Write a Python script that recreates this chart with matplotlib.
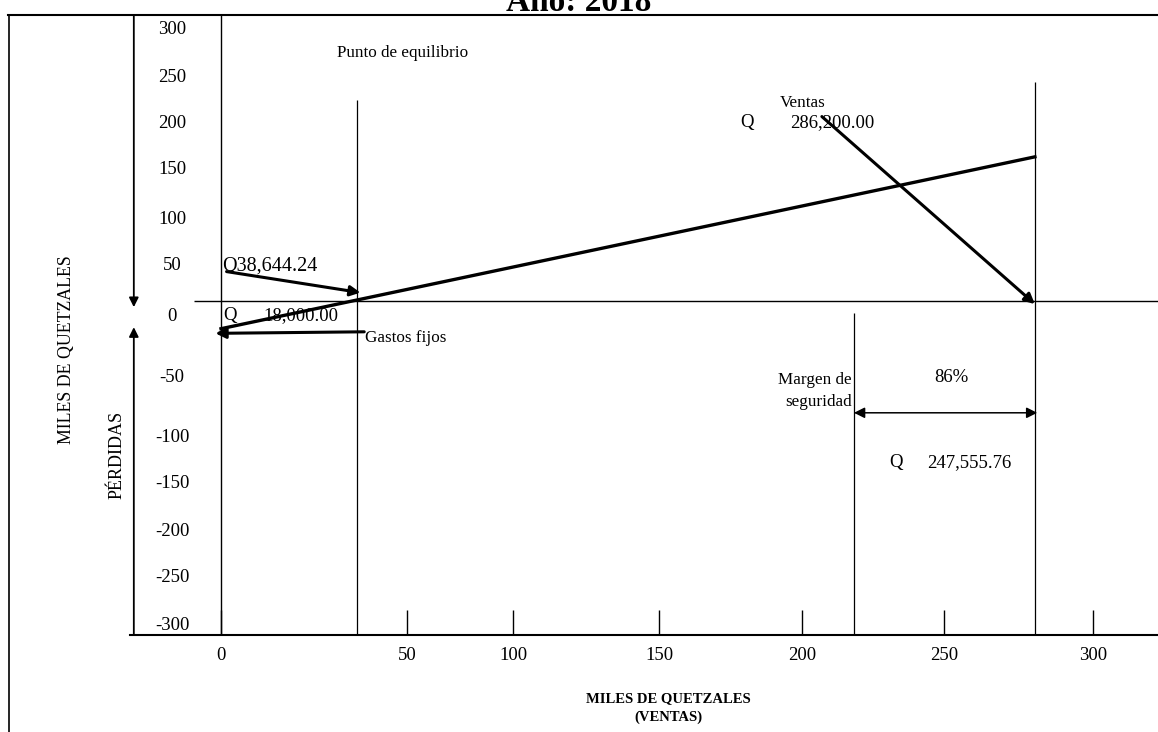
import numpy as np
import matplotlib.pyplot as plt
from matplotlib.lines import Line2D

plt.rcParams['font.family'] = ['Liberation Serif', 'DejaVu Serif']

# valores del grafico (miles de quetzales)
costos_fijos = 18.0          # Q 18,000.00
punto_eq_txt = "Q38,644.24"
ventas_txt = "286,200.00"
margen_txt = "247,555.76"
margen_pct = "86%"

# posiciones (escala del escaneo)
x_pe_dib = 36.5
x_ventas_dib = 280.5
x_margen_dib = 218.3
utilidad_dib = 164.0

x_ticks = [0, 50, 100, 150, 200, 250, 300]
y_ticks = [300, 250, 200, 150, 100, 50, 0, -50, -100, -150, -200, -250, -300]

# la escala del dibujo no es lineal: valor -> pixel, leido de las marcas
x_cal_v = np.array([-100, 0, 50, 100, 150, 200, 250, 300, 400])
x_cal_p = np.array([-150, 221, 407, 513, 659, 802, 944, 1093, 1391])
y_cal_v = np.array([-400, -300, -250, -200, -150, -100, -50, 0, 50, 100, 150, 200, 250, 300, 400])
y_cal_p = np.array([719, 625, 578, 531, 484, 438, 378, 301, 266, 219, 170, 123, 77, 29, -65])


def fx(v):
    return np.interp(v, x_cal_v, x_cal_p)


def ifx(p):
    return np.interp(p, x_cal_p, x_cal_v)


def fy(v):
    return np.interp(v, y_cal_v, -y_cal_p)


def ify(p):
    return np.interp(p, -y_cal_p, y_cal_v)


W, H = 1158, 732
fig = plt.figure(figsize=(W / 100, H / 100), dpi=100)
ax = fig.add_axes([130 / W, (H - 635) / H, (W - 130) / W, (635 - 15) / H])
ax.set_xscale('function', functions=(fx, ifx))
ax.set_yscale('function', functions=(fy, ify))
ax.set_xlim(ifx(130), ifx(W))
ax.set_ylim(ify(-635), ify(-15))
xmin, xmax = ax.get_xlim()
ymin, ymax = ax.get_ylim()

for s in ['left', 'top', 'right']:
    ax.spines[s].set_visible(False)
ax.spines['bottom'].set_linewidth(1.5)

fs_num = 13.5
fs = 12.3
ax.set_xticks(x_ticks)
ax.set_xticklabels([str(t) for t in x_ticks], fontsize=fs_num)
ax.tick_params(axis='x', direction='in', length=18, width=1, pad=9)
ax.minorticks_off()
ax.set_yticks([])
for t in y_ticks:
    ax.text(0.041, t if t != 0 else -10, str(t), transform=ax.get_yaxis_transform(),
            ha='center', va='center', fontsize=fs_num)

# lineas verticales
ax.axvline(0, color='k', lw=1)
ax.vlines(x_pe_dib, ymin, 225, color='k', lw=0.9)
ax.vlines(x_ventas_dib, ymin, 245, color='k', lw=0.9)
ax.vlines(x_margen_dib, ymin, -8, color='k', lw=0.9)
ax.hlines(0, -7.3, xmax, color='k', lw=1)

# linea de utilidad
ax.plot([0, x_ventas_dib], [-costos_fijos, utilidad_dib], color='k', lw=2.4)

# flechas del eje vertical
arr_thin = dict(arrowstyle='-|>', lw=1.3, color='k', mutation_scale=14, shrinkA=0, shrinkB=0)
ax.annotate('', xy=(-23.5, -4), xytext=(-23.5, ymax), arrowprops=arr_thin, annotation_clip=False)
ax.annotate('', xy=(-23.5, -17), xytext=(-23.5, ymin), arrowprops=arr_thin, annotation_clip=False)

arr = dict(arrowstyle='-|>', lw=2.2, color='k', mutation_scale=15, shrinkA=0, shrinkB=0)
ax.annotate('', xy=(x_pe_dib + 1, 12), xytext=(1.5, 42), arrowprops=arr)
ax.annotate('', xy=(-1.5, -21), xytext=(x_pe_dib + 2, -20), arrowprops=arr)
ax.annotate('', xy=(x_ventas_dib, -2), xytext=(207, 207), arrowprops=arr)
ax.annotate('', xy=(x_margen_dib, -79), xytext=(x_ventas_dib + 0.8, -79),
            arrowprops=dict(arrowstyle='<|-|>', lw=1.1, color='k', mutation_scale=16,
                            shrinkA=0, shrinkB=0))

ax.text(31.1, 274.5, "Punto de equilibrio", fontsize=fs, va='center')
ax.text(200.4, 222, "Ventas", fontsize=fs, ha='center', va='center')
ax.text(180.8, 200, "Q", fontsize=fs_num, ha='center', va='center')
ax.text(195.8, 200, ventas_txt, fontsize=fs_num, va='center')
ax.text(0.3, 50, punto_eq_txt, fontsize=14.5, va='center')
ax.text(2.4, -9.7, "Q", fontsize=fs_num, ha='center', va='center')
ax.text(11.4, -9.7, "18,000.00", fontsize=fs_num, va='center')
ax.text(38.6, -24, "Gastos fijos", fontsize=fs, va='center')
ax.text(217.6, -51.5, "Margen de", fontsize=fs, ha='right', va='center')
ax.text(217.6, -70, "seguridad", fontsize=fs, ha='right', va='center')
ax.text(252.5, -50, margen_pct, fontsize=fs_num, ha='center', va='center')
ax.text(233.1, -127, "Q", fontsize=fs_num, ha='center', va='center')
ax.text(244.0, -127, margen_txt, fontsize=fs_num, va='center')

# titulos de ejes y encabezado
fig.text(668 / W, 1 - 699 / H, "MILES DE QUETZALES", ha='center', va='center',
         fontsize=10.5, fontweight='bold')
fig.text(668 / W, 1 - 717 / H, "(VENTAS)", ha='center', va='center',
         fontsize=10.5, fontweight='bold')
fig.text(67 / W, 1 - 350 / H, "MILES DE QUETZALES", rotation=90, ha='center', va='center',
         fontsize=12.8)
fig.text(117 / W, 1 - 455 / H, "PÉRDIDAS", rotation=90, ha='center', va='center',
         fontsize=13)
fig.text(579 / W, 1 - 11 / H, "Año: 2018", ha='center', va='baseline',
         fontsize=24, fontweight='bold')

# marco
fig.add_artist(Line2D([9 / W, 9 / W], [0, 1 - 15 / H], color='k', lw=1.2))
fig.add_artist(Line2D([8 / W, 1], [1 - 15 / H, 1 - 15 / H], color='k', lw=1.5))

fig.savefig('out.png', dpi=100)
